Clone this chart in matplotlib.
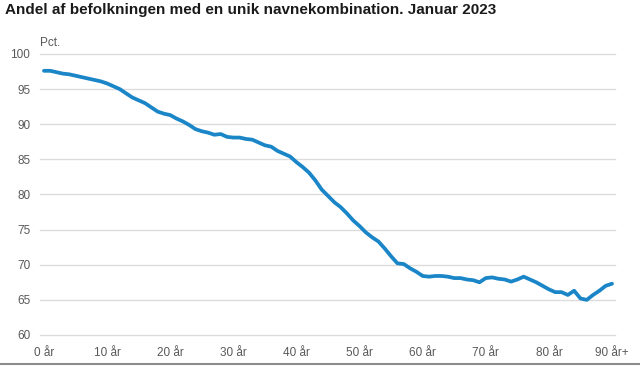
import matplotlib
matplotlib.use("Agg")
import matplotlib.pyplot as plt
from matplotlib.lines import Line2D

# ── Data ───────────────────────────────────────────────
ages = list(range(0, 91))
share = [
    97.6, 97.6, 97.4, 97.2, 97.1, 96.9, 96.7, 96.5, 96.3, 96.1,
    95.8, 95.4, 95.0, 94.4, 93.8, 93.4, 93.0, 92.4, 91.8, 91.5,
    91.3, 90.8, 90.4, 89.9, 89.3, 89.0, 88.8, 88.5, 88.6, 88.2,
    88.1, 88.1, 87.9, 87.8, 87.4, 87.0, 86.8, 86.2, 85.8, 85.4,
    84.6, 83.9, 83.1, 82.0, 80.7, 79.8, 78.9, 78.2, 77.3, 76.3,
    75.5, 74.6, 73.9, 73.3, 72.3, 71.2, 70.2, 70.1, 69.5, 69.0,
    68.4, 68.3, 68.4, 68.4, 68.3, 68.1, 68.1, 67.9, 67.8, 67.5,
    68.1, 68.2, 68.0, 67.9, 67.6, 67.9, 68.3, 67.9, 67.5, 67.0,
    66.5, 66.1, 66.1, 65.7, 66.3, 65.2, 65.0, 65.7, 66.3, 67.0,
    67.3,
]
x_ticks = [0, 10, 20, 30, 40, 50, 60, 70, 80, 90]
x_labels = ["0 år", "10 år", "20 år", "30 år", "40 år",
            "50 år", "60 år", "70 år", "80 år", "90 år+"]
y_ticks = [60, 65, 70, 75, 80, 85, 90, 95, 100]

plt.rcParams["font.family"] = ["Liberation Sans", "DejaVu Sans"]

fig = plt.figure(figsize=(6.4, 3.67), dpi=100)
ax = fig.add_axes([0.0625, 0.0872, 0.8985, 0.7658])

ax.plot(ages, share, color="#1a85c7", lw=2.7, solid_capstyle="round",
        solid_joinstyle="round", zorder=3)

ax.set_xlim(-0.63, 90.48)
ax.set_ylim(60, 100)
ax.set_xticks(x_ticks)
ax.set_xticklabels(x_labels)
ax.set_yticks(y_ticks)

ax.grid(axis="y", color="#dcdcdc", lw=1, clip_on=False)
ax.set_axisbelow(True)
for s in ax.spines.values():
    s.set_visible(False)
ax.tick_params(axis="both", length=0, labelsize=8.5, labelcolor="#595959")
ax.tick_params(axis="x", pad=9)
ax.tick_params(axis="y", pad=7)

fig.text(0.008, 0.974, "Andel af befolkningen med en unik navnekombination. Januar 2023",
         fontsize=11, fontweight="bold", color="#1a1a1a", ha="left", va="center")
fig.text(0.0625, 0.884, "Pct.", fontsize=8.5, color="#595959", ha="left", va="center")

# thin grey rule along the bottom
fig.add_artist(Line2D([0, 1], [1 - 364 / 367, 1 - 364 / 367],
                      transform=fig.transFigure, color="#8c8c8c", lw=1.5))

fig.savefig("out.png", dpi=100)
